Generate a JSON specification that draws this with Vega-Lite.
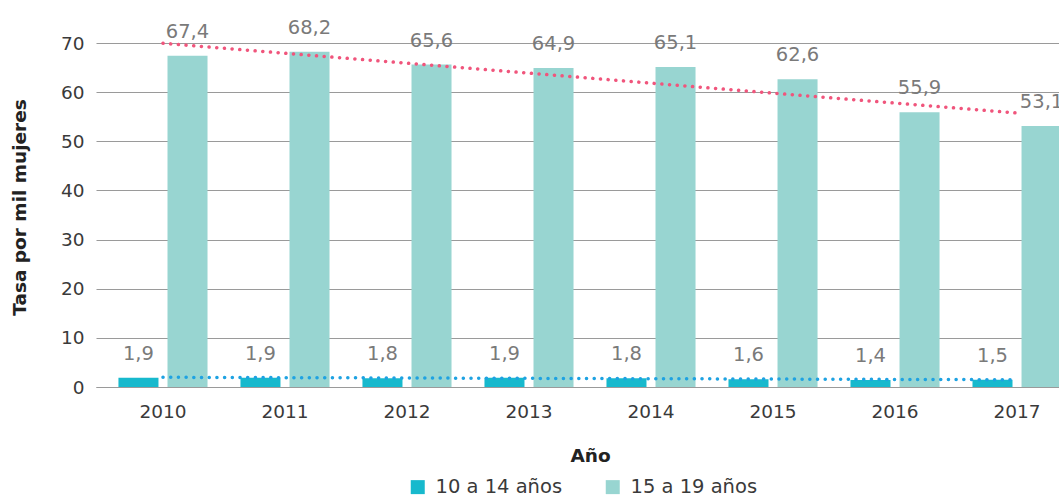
{
  "$schema": "https://vega.github.io/schema/vega-lite/v6.json",
  "autosize": {"type": "none"},
  "width": 988,
  "height": 344,
  "padding": {"left": 96, "top": 43, "right": 0, "bottom": 111},
  "config": {
    "font": "DejaVu Sans",
    "locale": {"number": {"decimal": ",", "thousands": ".", "grouping": [3], "currency": ["", " €"]}},
    "view": {"stroke": null},
    "axis": {"labelFont": "DejaVu Sans", "titleFont": "DejaVu Sans"},
    "legend": {"labelFont": "DejaVu Sans"}
  },
  "data": {
    "values": [
      {"Anio": 2010, "grupo": "10 a 14 años", "tasa": 1.9},
      {"Anio": 2011, "grupo": "10 a 14 años", "tasa": 1.9},
      {"Anio": 2012, "grupo": "10 a 14 años", "tasa": 1.8},
      {"Anio": 2013, "grupo": "10 a 14 años", "tasa": 1.9},
      {"Anio": 2014, "grupo": "10 a 14 años", "tasa": 1.8},
      {"Anio": 2015, "grupo": "10 a 14 años", "tasa": 1.6},
      {"Anio": 2016, "grupo": "10 a 14 años", "tasa": 1.4},
      {"Anio": 2017, "grupo": "10 a 14 años", "tasa": 1.5},
      {"Anio": 2010, "grupo": "15 a 19 años", "tasa": 67.4},
      {"Anio": 2011, "grupo": "15 a 19 años", "tasa": 68.2},
      {"Anio": 2012, "grupo": "15 a 19 años", "tasa": 65.6},
      {"Anio": 2013, "grupo": "15 a 19 años", "tasa": 64.9},
      {"Anio": 2014, "grupo": "15 a 19 años", "tasa": 65.1},
      {"Anio": 2015, "grupo": "15 a 19 años", "tasa": 62.6},
      {"Anio": 2016, "grupo": "15 a 19 años", "tasa": 55.9},
      {"Anio": 2017, "grupo": "15 a 19 años", "tasa": 53.1}
    ]
  },
  "encoding": {
    "x": {
      "field": "Anio", "type": "ordinal",
      "scale": {"paddingInner": 0.27, "paddingOuter": 0.184},
      "axis": {
        "title": "Año", "labelAngle": 0, "labelFontSize": 18.5, "labelColor": "#3a3a3a",
        "labelPadding": 15, "tickSize": 0, "ticks": false,
        "domainColor": "#9a9a9a", "domainWidth": 1.2,
        "titleFontSize": 18.5, "titleFontWeight": "bold", "titleColor": "#222222", "titlePadding": 26
      }
    }
  },
  "layer": [
    {
      "mark": {"type": "bar"},
      "encoding": {
        "xOffset": {"field": "grupo", "type": "nominal", "scale": {"paddingInner": 0.184}},
        "y": {
          "field": "tasa", "type": "quantitative",
          "scale": {"domain": [0, 70]},
          "axis": {
            "title": "Tasa por mil mujeres", "values": [0, 10, 20, 30, 40, 50, 60, 70],
            "domain": false, "ticks": false, "labelPadding": 12,
            "labelFontSize": 18.5, "labelColor": "#3a3a3a",
            "gridColor": "#9a9a9a", "gridWidth": 1.2,
            "titleFontSize": 18.5, "titleFontWeight": "bold", "titleColor": "#222222", "titlePadding": 31,
            "titleY": 164
          }
        },
        "color": {
          "field": "grupo", "type": "nominal",
          "scale": {"domain": ["10 a 14 años", "15 a 19 años"], "range": ["#17b9cd", "#98d5d1"]},
          "legend": {
            "title": null, "orient": "none", "legendX": 312, "legendY": 434,
            "direction": "horizontal", "symbolType": "square", "symbolSize": 196,
            "symbolStrokeWidth": 0, "labelFontSize": 19.5, "labelColor": "#3a3a3a",
            "columnPadding": 40, "labelOffset": 8
          }
        }
      }
    },
    {
      "mark": {"type": "text", "baseline": "bottom", "dy": -14, "fontSize": 19.5, "color": "#7a7a7a"},
      "encoding": {
        "xOffset": {"field": "grupo", "type": "nominal"},
        "y": {"field": "tasa", "type": "quantitative"},
        "text": {"field": "tasa", "type": "quantitative", "format": ".1f"}
      }
    },
    {
      "transform": [{"regression": "tasa", "on": "Anio", "groupby": ["grupo"]}],
      "mark": {"type": "line", "strokeWidth": 3.5, "strokeCap": "round", "strokeDash": [0.1, 7.6]},
      "encoding": {
        "y": {"field": "tasa", "type": "quantitative"},
        "stroke": {
          "field": "grupo", "type": "nominal",
          "scale": {"domain": ["10 a 14 años", "15 a 19 años"], "range": ["#1ea2e2", "#f0557c"]},
          "legend": null
        }
      }
    }
  ]
}
